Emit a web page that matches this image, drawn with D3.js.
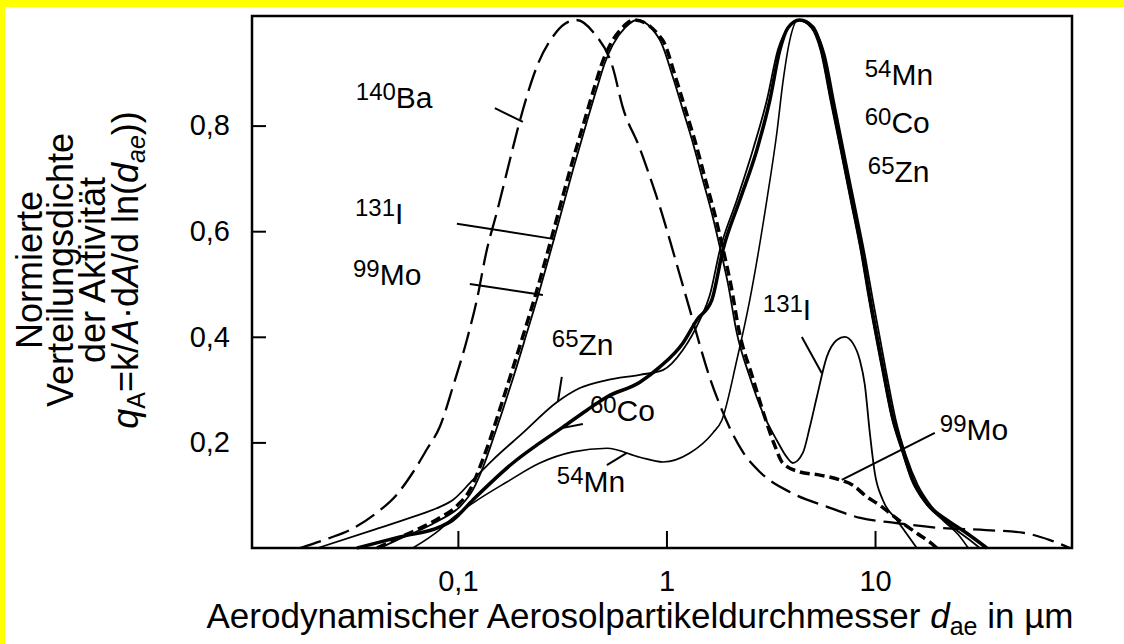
<!DOCTYPE html>
<html>
<head>
<meta charset="utf-8">
<script src="https://cdn.jsdelivr.net/npm/d3@7"></script>
<style>
  html, body { margin: 0; padding: 0; background: #fff; }
  svg { display: block; }
  text { font-family: "Liberation Sans", Arial, sans-serif; fill: #000; }
</style>
</head>
<body>
<svg id="chart" width="1124" height="644"></svg>
<script>
// axis ticks
const xTicks = [0.1, 1, 10];
const xTickLabels = ['0,1', '1', '10'];
const yTicks = [0.2, 0.4, 0.6, 0.8];
const yTickLabels = ['0,2', '0,4', '0,6', '0,8'];

// curves: [d_ae in µm, normalised density]
const ba140 = [
  [0.0175, 0], [0.0243, 0.019], [0.0303, 0.034], [0.0409, 0.067], [0.0509, 0.101],
  [0.0608, 0.143], [0.071, 0.187], [0.082, 0.23], [0.0946, 0.305], [0.1104, 0.394],
  [0.1233, 0.47], [0.1377, 0.565], [0.1538, 0.636], [0.1718, 0.712], [0.1919, 0.788],
  [0.2143, 0.856], [0.2393, 0.912], [0.2825, 0.966], [0.326, 0.993], [0.37, 1.0],
  [0.45, 0.975], [0.553, 0.91], [0.618, 0.834], [0.74, 0.76], [0.833, 0.703],
  [0.93, 0.646], [1.038, 0.583], [1.159, 0.517], [1.295, 0.451], [1.446, 0.384],
  [1.615, 0.322], [1.803, 0.271], [2.014, 0.227], [2.324, 0.182], [2.804, 0.144],
  [3.904, 0.106], [5.9, 0.078], [8.5, 0.057], [12.2, 0.048], [20.5, 0.038],
  [34, 0.034], [51, 0.029], [69, 0.015], [86, 0]
];
const i131 = [
  [0.0423, 0], [0.051, 0.015], [0.0658, 0.034], [0.082, 0.053], [0.102, 0.078],
  [0.118, 0.11], [0.132, 0.153], [0.147, 0.205], [0.164, 0.261], [0.184, 0.322],
  [0.214, 0.407], [0.247, 0.489], [0.282, 0.57], [0.308, 0.625], [0.356, 0.716],
  [0.415, 0.807], [0.469, 0.877], [0.507, 0.919], [0.553, 0.953], [0.632, 0.985],
  [0.72, 1.0], [0.93, 0.962], [1.073, 0.892], [1.198, 0.83], [1.339, 0.767],
  [1.494, 0.697], [1.651, 0.634], [1.803, 0.57], [1.969, 0.502], [2.175, 0.407],
  [2.51, 0.324], [2.898, 0.256], [3.382, 0.204], [3.778, 0.172], [4.035, 0.161],
  [4.507, 0.18], [4.868, 0.229], [5.26, 0.286], [5.873, 0.362], [6.56, 0.394],
  [7.165, 0.4], [7.828, 0.388], [8.455, 0.356], [8.937, 0.309], [9.443, 0.218],
  [9.978, 0.142], [10.9, 0.091], [12.72, 0.053], [15.86, 0]
];
const mo99 = [
  [0.041, 0], [0.05, 0.016], [0.064, 0.035], [0.08, 0.055], [0.099, 0.08],
  [0.115, 0.112], [0.128, 0.155], [0.143, 0.207], [0.159, 0.263], [0.178, 0.324],
  [0.208, 0.409], [0.24, 0.49], [0.274, 0.571], [0.299, 0.626], [0.345, 0.716],
  [0.403, 0.807], [0.455, 0.877], [0.492, 0.919], [0.537, 0.953], [0.613, 0.985],
  [0.7, 1.0], [0.958, 0.962], [1.105, 0.892], [1.234, 0.83], [1.379, 0.767],
  [1.539, 0.697], [1.7, 0.634], [1.857, 0.57], [2.028, 0.502], [2.24, 0.407],
  [2.585, 0.324], [2.95, 0.25], [3.3, 0.195], [3.61, 0.161], [4.36, 0.144],
  [5.44, 0.138], [6.78, 0.129], [7.83, 0.119], [9.13, 0.097], [10.54, 0.081],
  [11.78, 0.066], [13.59, 0.047], [15.86, 0.028], [18.31, 0.011], [19.8, 0]
];
const mn54 = [
  [0.0608, 0], [0.082, 0.035], [0.0946, 0.057], [0.118, 0.085], [0.1717, 0.125],
  [0.2472, 0.161], [0.3559, 0.182], [0.5179, 0.189], [0.7455, 0.172], [0.961, 0.163],
  [1.295, 0.18], [1.669, 0.218], [1.843, 0.242], [2.175, 0.356], [2.51, 0.47],
  [3.029, 0.659], [3.382, 0.786], [3.614, 0.881], [3.904, 0.962], [4.265, 1.0],
  [4.95, 0.985], [5.47, 0.943], [6.11, 0.848], [6.83, 0.754], [7.63, 0.659],
  [8.52, 0.564], [9.3, 0.475], [10.74, 0.343], [11.99, 0.248], [13.39, 0.186],
  [14.95, 0.129], [17.44, 0.085], [21.5, 0.05], [25.5, 0.022], [28, 0]
];
const co60 = [
  [0.0328, 0], [0.0527, 0.021], [0.082, 0.04], [0.0946, 0.053], [0.118, 0.091],
  [0.1835, 0.161], [0.2472, 0.199], [0.3187, 0.229], [0.4153, 0.261], [0.5179, 0.286],
  [0.7455, 0.314], [0.93, 0.343], [1.198, 0.388], [1.399, 0.432], [1.651, 0.47],
  [1.864, 0.564], [2.248, 0.659], [2.713, 0.754], [3.13, 0.848], [3.497, 0.943],
  [3.82, 0.985], [4.35, 1.0], [5.032, 0.987], [5.559, 0.943], [6.208, 0.848],
  [6.932, 0.754], [7.742, 0.659], [8.646, 0.564], [9.443, 0.475], [10.9, 0.343],
  [12.17, 0.248], [13.59, 0.186], [15.18, 0.129], [17.71, 0.085], [22.1, 0.053],
  [27.55, 0.028], [34.36, 0]
];
const zn65 = [
  [0.0213, 0], [0.0391, 0.034], [0.0608, 0.059], [0.082, 0.078], [0.0946, 0.091],
  [0.118, 0.129], [0.1472, 0.167], [0.2049, 0.218], [0.298, 0.276], [0.3845, 0.303],
  [0.5179, 0.318], [0.7455, 0.328], [0.961, 0.337], [1.198, 0.375], [1.446, 0.432],
  [1.615, 0.479], [1.803, 0.564], [2.175, 0.659], [2.596, 0.754], [3.029, 0.848],
  [3.42, 0.943], [3.904, 0.99], [4.3, 1.0], [5.145, 0.98], [5.745, 0.934],
  [6.417, 0.839], [7.165, 0.744], [8.002, 0.65], [8.937, 0.555], [9.761, 0.47],
  [11.27, 0.337], [12.58, 0.242], [14.05, 0.176], [16.04, 0.119], [18.72, 0.078],
  [22.84, 0.044], [28.48, 0.015], [31.8, 0]
];

// labels: [mass number, element, d_ae, density]
const labels = [
  ['140', 'Ba', 0.0324, 0.833],
  ['131', 'I', 0.0321, 0.614],
  ['99', 'Mo', 0.0314, 0.498],
  ['65', 'Zn', 0.282, 0.366],
  ['60', 'Co', 0.4296, 0.2405],
  ['54', 'Mn', 0.298, 0.106],
  ['54', 'Mn', 8.93, 0.877],
  ['60', 'Co', 8.93, 0.786],
  ['65', 'Zn', 9.24, 0.693],
  ['131', 'I', 2.898, 0.432],
  ['99', 'Mo', 20.45, 0.2045]
];
// leader lines: [d1, v1, d2, v2]
const leaders = [
  [0.1504, 0.833, 0.2049, 0.807],
  [0.0989, 0.614, 0.2917, 0.585],
  [0.1141, 0.5, 0.2556, 0.479],
  [0.315, 0.324, 0.3015, 0.2765],
  [0.315, 0.227, 0.3975, 0.235],
  [0.518, 0.157, 0.6458, 0.18],
  [4.458, 0.3996, 5.559, 0.331],
  [19.35, 0.218, 6.93, 0.129]
];

const W = 1124, H = 644;
const plot = { left: 252, top: 16, right: 1072, bottom: 548 };

const svg = d3.select('#chart');

// yellow frame around the picture
svg.append('rect').attr('width', W).attr('height', H).attr('fill', '#ffff00');
svg.append('rect').attr('x', 5).attr('y', 7).attr('width', W - 5).attr('height', H - 7).attr('fill', '#fff');

const x = d3.scaleLog().domain([0.0103, 88]).range([plot.left, plot.right]);
const y = d3.scaleLinear().domain([0, 1]).range([plot.bottom, 20]);

// axes with inside ticks
const xAxis = svg.append('g')
  .attr('transform', `translate(0,${plot.bottom})`)
  .call(d3.axisBottom(x).tickValues(xTicks).tickSize(-17).tickPadding(22)
    .tickFormat((d, i) => xTickLabels[i]));
const yAxis = svg.append('g')
  .attr('transform', `translate(${plot.left},0)`)
  .call(d3.axisLeft(y).tickValues(yTicks).tickSize(-14).tickPadding(22)
    .tickFormat((d, i) => yTickLabels[i]));

[xAxis, yAxis].forEach(g => {
  g.select('.domain').remove();
  g.selectAll('.tick line').attr('stroke', '#000').attr('stroke-width', 2);
  g.selectAll('.tick text').attr('font-size', 29).attr('font-family', '"Liberation Sans", Arial, sans-serif');
});

// curves
const line = d3.line()
  .x(d => x(d[0]))
  .y(d => y(d[1]))
  .curve(d3.curveMonotoneX);

const series = [
  { data: ba140, width: 2.3, dash: '22,8' },
  { data: i131, width: 1.8, dash: null },
  { data: mo99, width: 3.5, dash: '10,5' },
  { data: mn54, width: 1.6, dash: null },
  { data: zn65, width: 1.8, dash: null },
  { data: co60, width: 3.5, dash: null }
];

svg.append('g').selectAll('path')
  .data(series)
  .join('path')
  .attr('d', s => line(s.data))
  .attr('fill', 'none')
  .attr('stroke', '#000')
  .attr('stroke-width', s => s.width)
  .attr('stroke-dasharray', s => s.dash)
  .attr('stroke-linejoin', 'round');

// leader lines
svg.append('g').selectAll('line')
  .data(leaders)
  .join('line')
  .attr('x1', d => x(d[0])).attr('y1', d => y(d[1]))
  .attr('x2', d => x(d[2])).attr('y2', d => y(d[3]))
  .attr('stroke', '#000').attr('stroke-width', 2);

// nuclide labels
const lab = svg.append('g').selectAll('text')
  .data(labels)
  .join('text')
  .attr('x', d => x(d[2]))
  .attr('y', d => y(d[3]));
lab.append('tspan').attr('font-size', 24).attr('dy', -8).text(d => d[0]);
lab.append('tspan').attr('font-size', 30).attr('dy', 8).text(d => d[1]);

// frame
svg.append('rect')
  .attr('x', plot.left).attr('y', plot.top)
  .attr('width', plot.right - plot.left).attr('height', plot.bottom - plot.top)
  .attr('fill', 'none').attr('stroke', '#000').attr('stroke-width', 2.5);

// x title
const xt = svg.append('text')
  .attr('x', 640).attr('y', 628)
  .attr('text-anchor', 'middle')
  .attr('font-size', 35);
xt.append('tspan').text('Aerodynamischer Aerosolpartikeldurchmesser ');
xt.append('tspan').attr('font-style', 'italic').text('d');
xt.append('tspan').attr('font-size', 25).attr('dy', 7).text('ae');
xt.append('tspan').attr('dy', -7).text(' in µm');

// y title
const yt = svg.append('g').attr('transform', 'translate(0,270) rotate(-90)');
const yLines = ['Normierte', 'Verteilungsdichte', 'der Aktivität'];
const yBase = [42, 73, 105];
yLines.forEach((t, i) => {
  yt.append('text').attr('x', 0).attr('y', yBase[i])
    .attr('text-anchor', 'middle').attr('font-size', 36).text(t);
});
const q = yt.append('text').attr('x', 0).attr('y', 138)
  .attr('text-anchor', 'middle').attr('font-size', 36);
q.append('tspan').attr('font-style', 'italic').text('q');
q.append('tspan').attr('font-size', 25).attr('dy', 7).text('A');
q.append('tspan').attr('dy', -7).text('=k/');
q.append('tspan').attr('font-style', 'italic').text('A');
q.append('tspan').text('·d');
q.append('tspan').attr('font-style', 'italic').text('A');
q.append('tspan').text('/d ln(');
q.append('tspan').attr('font-style', 'italic').text('d');
q.append('tspan').attr('font-size', 25).attr('font-style', 'italic').attr('dy', 7).text('ae');
q.append('tspan').attr('dy', -7).text('))');
</script>
</body>
</html>
